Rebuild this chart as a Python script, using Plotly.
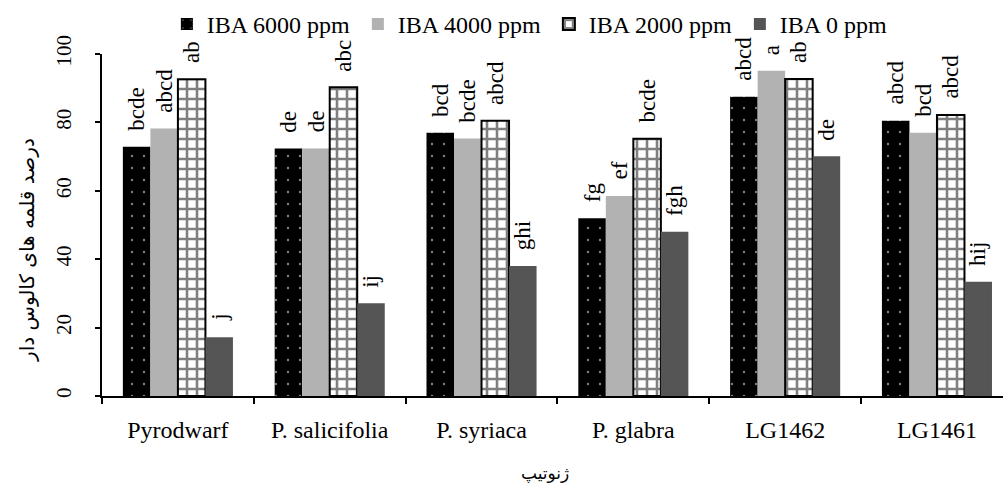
import plotly.graph_objects as go

categories = ["Pyrodwarf", "P. salicifolia", "P. syriaca", "P. glabra", "LG1462", "LG1461"]
series_names = ["IBA 6000 ppm", "IBA 4000 ppm", "IBA 2000 ppm", "IBA 0 ppm"]
iba6000 = [72.9, 72.4, 77.0, 52.0, 87.5, 80.5]
iba4000 = [78.2, 72.4, 75.3, 58.5, 95.1, 77.0]
iba2000 = [92.6, 90.3, 80.5, 75.2, 92.7, 82.2]
iba0 = [17.2, 27.1, 38.0, 48.0, 70.1, 33.4]
letters6000 = ["bcde", "de", "bcd", "fg", "abcd", "abcd"]
letters4000 = ["abcd", "de", "bcde", "ef", "a", "bcd"]
letters2000 = ["ab", "abc", "abcd", "bcde", "ab", "abcd"]
letters0 = ["j", "ij", "ghi", "fgh", "de", "hij"]
y_ticks = [0, 20, 40, 60, 80, 100]
y_title = "درصد قلمه های کالوس دار"
x_title = "ژنوتیپ"

serif = "Liberation Serif, Times New Roman, Times, serif"
values = [iba6000, iba4000, iba2000, iba0]
letters = [letters6000, letters4000, letters2000, letters0]
styles = [
    dict(color="black", pattern=dict(shape=".", fgcolor="white", bgcolor="black", size=12, solidity=0.03),
         line=dict(width=0)),
    dict(color="#b2b2b2", line=dict(width=0)),
    dict(color="white", pattern=dict(shape="+", fgcolor="black", bgcolor="white", size=10, solidity=0.45),
         line=dict(width=2, color="black")),
    dict(color="#555555", line=dict(width=0)),
]

fig = go.Figure()
for name, vals, st in zip(series_names, values, styles):
    fig.add_trace(go.Bar(x=categories, y=vals, name=name, marker=st, hoverinfo="skip"))

bargap = 0.275
bw = (1 - bargap) / 4
annotations = []
for j, labs in enumerate(letters):
    for i, (lab, v) in enumerate(zip(labs, values[j])):
        annotations.append(dict(
            x=i + (j - 1.5) * bw, y=v, xref="x", yref="y", text=lab, showarrow=False,
            textangle=-90, yanchor="bottom", xanchor="center", yshift=14,
            font=dict(family=serif, size=23, color="black")))

annotations.append(dict(x=-0.0832, y=0.427, xref="paper", yref="paper", text=y_title, showarrow=False,
                        textangle=-90, xanchor="center", yanchor="middle",
                        font=dict(family="DejaVu Sans", size=20, color="black")))
annotations.append(dict(x=0.4917, y=-0.228, xref="paper", yref="paper", text=x_title, showarrow=False,
                        xanchor="center", yanchor="middle",
                        font=dict(family="DejaVu Sans", size=17, color="black")))

fig.update_layout(
    width=1003, height=483,
    margin=dict(l=102, r=0, t=54, b=87),
    paper_bgcolor="white", plot_bgcolor="white",
    barmode="group", bargap=bargap, bargroupgap=0,
    annotations=annotations,
    showlegend=True,
    legend=dict(orientation="h", x=0.072, xanchor="left", y=1.152, yanchor="top",
                font=dict(family=serif, size=24, color="black"),
                entrywidth=146, entrywidthmode="pixels", itemwidth=30,
                bgcolor="rgba(0,0,0,0)"),
    font=dict(family=serif, color="black"),
)
fig.update_xaxes(
    type="category", range=[-0.5, 5.435], showline=True, linecolor="black", linewidth=1.5,
    ticks="outside", tickson="boundaries", ticklen=6, tickcolor="black", tickwidth=1.5,
    tickfont=dict(family=serif, size=24, color="black"), ticklabelstandoff=11, showgrid=False,
)
fig.update_yaxes(
    range=[0, 100], tickvals=y_ticks, showline=True, linecolor="black", linewidth=1.5,
    ticks="outside", ticklen=5, tickcolor="black", tickwidth=1.5, tickangle=-90,
    tickfont=dict(family=serif, size=21, color="black"), ticklabelstandoff=16,
    showgrid=False, zeroline=False,
)
fig.write_html("out.html")
